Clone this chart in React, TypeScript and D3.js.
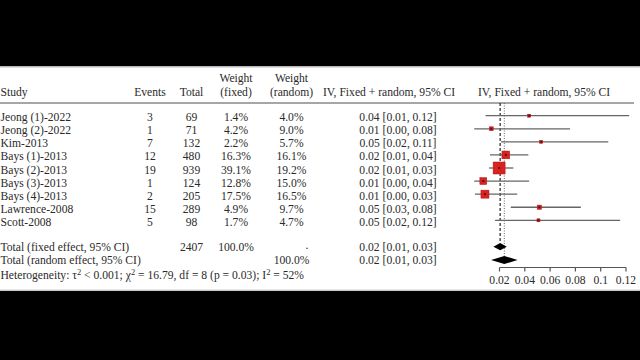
import React from "react";
import * as d3 from "d3";

const studies = [
  "Jeong (1)-2022",
  "Jeong (2)-2022",
  "Kim-2013",
  "Bays (1)-2013",
  "Bays (2)-2013",
  "Bays (3)-2013",
  "Bays (4)-2013",
  "Lawrence-2008",
  "Scott-2008",
];
const events = [3, 1, 7, 12, 19, 1, 2, 15, 5];
const totals = [69, 71, 132, 480, 939, 124, 205, 289, 98];
const weightFixed = [1.4, 4.2, 2.2, 16.3, 39.1, 12.8, 17.5, 4.9, 1.7];
const weightRandom = [4.0, 9.0, 5.7, 16.1, 19.2, 15.0, 16.5, 9.7, 4.7];
const ciLabels = [
  "0.04 [0.01, 0.12]",
  "0.01 [0.00, 0.08]",
  "0.05 [0.02, 0.11]",
  "0.02 [0.01, 0.04]",
  "0.02 [0.01, 0.03]",
  "0.01 [0.00, 0.04]",
  "0.01 [0.00, 0.03]",
  "0.05 [0.03, 0.08]",
  "0.05 [0.02, 0.12]",
];
const estimates = [0.0435, 0.0135, 0.053, 0.025, 0.0197, 0.0072, 0.0085, 0.0515, 0.0508];
const lowers = [0.009, 0.0, 0.0212, 0.0125, 0.0117, 0.0, 0.0006, 0.0289, 0.0165];
const uppers = [0.1225, 0.0758, 0.106, 0.0428, 0.031, 0.0434, 0.034, 0.0843, 0.1154];

const totalN = 2407;
const totalWeightLabel = "100.0%";
const fixedEst = 0.0205;
const fixedLow = 0.0152;
const fixedHigh = 0.0258;
const randomEst = 0.0238;
const randomLow = 0.0133;
const randomHigh = 0.0343;
const fixedLabel = "0.02 [0.01, 0.03]";
const randomLabel = "0.02 [0.01, 0.03]";
const axisTicks = [0.02, 0.04, 0.06, 0.08, 0.1, 0.12];
const axisTickLabels = ["0.02", "0.04", "0.06", "0.08", "0.1", "0.12"];

const FONT = "'Liberation Serif', 'DejaVu Serif', serif";
const TXT = "#2a2a2a";

export default function App() {
  const W = 640;
  const H = 360;
  const x = d3.scaleLinear().domain([0, 0.12]).range([474.2, 626]);
  const y = d3
    .scalePoint<number>()
    .domain(d3.range(studies.length))
    .range([115.7, 220.3]);
  const size = d3.scaleSqrt().domain([0, 39.1]).range([0, 12]);
  const pct = (v: number) => d3.format(".1f")(v) + "%";

  const colStudy = 0.5;
  const colEvents = 150;
  const colTotal = 191.5;
  const colWF = 236;
  const colWR = 291.5;
  const colCI = 398;
  const colHeadCI = 389;
  const colPlotHead = 544;

  const headerLineY = 103;
  const fixedY = 246.7;
  const randomY = 260;
  const axisY = 267.5;
  const dH = 3.6;

  const diamond = (lo: number, est: number, hi: number, cy: number, h: number) =>
    `M${x(lo)},${cy} L${x(est)},${cy - h} L${x(hi)},${cy} L${x(est)},${cy + h} Z`;

  const textProps = { fontFamily: FONT, fontSize: 11.6, fill: TXT } as const;

  return (
    <div style={{ position: "fixed", left: 0, top: 0, width: W, height: H }}>
      <svg width={W} height={H} style={{ display: "block" }}>
        <rect x={0} y={0} width={W} height={H} fill="#000" />
        <rect x={0} y={66} width={W} height={225} fill="#fff" />
        <rect x={0} y={66} width={W} height={1.5} fill="#bbb" />
        <rect x={0} y={289.5} width={W} height={1.5} fill="#ccc" />

        {/* headers */}
        <g {...textProps}>
          <text x={colStudy} y={95.5}>Study</text>
          <text x={colEvents} y={95.5} textAnchor="middle">Events</text>
          <text x={colTotal} y={95.5} textAnchor="middle">Total</text>
          <text x={colWF} y={81.5} textAnchor="middle">Weight</text>
          <text x={colWF} y={95.5} textAnchor="middle">(fixed)</text>
          <text x={colWR} y={81.5} textAnchor="middle">Weight</text>
          <text x={colWR} y={95.5} textAnchor="middle">(random)</text>
          <text x={colHeadCI} y={95.5} textAnchor="middle">IV, Fixed + random, 95% CI</text>
          <text x={colPlotHead} y={95.5} textAnchor="middle">IV, Fixed + random, 95% CI</text>
        </g>
        <line x1={0} x2={634} y1={headerLineY} y2={headerLineY} stroke="#888" strokeWidth={1.4} />

        {/* study rows */}
        <g {...textProps}>
          {studies.map((s, i) => {
            const by = (y(i) as number) + 5.5;
            return (
              <g key={s}>
                <text x={colStudy} y={by}>{s}</text>
                <text x={colEvents} y={by} textAnchor="middle">{events[i]}</text>
                <text x={colTotal} y={by} textAnchor="middle">{totals[i]}</text>
                <text x={colWF} y={by} textAnchor="middle">{pct(weightFixed[i])}</text>
                <text x={colWR} y={by} textAnchor="middle">{pct(weightRandom[i])}</text>
                <text x={colCI} y={by} textAnchor="middle">{ciLabels[i]}</text>
              </g>
            );
          })}
        </g>

        {/* totals */}
        <g {...textProps}>
          <text x={colStudy} y={fixedY + 4.5}>Total (fixed effect, 95% CI)</text>
          <text x={colTotal} y={fixedY + 4.5} textAnchor="middle">{totalN}</text>
          <text x={colWF} y={fixedY + 4.5} textAnchor="middle">{totalWeightLabel}</text>
          <text x={307} y={fixedY + 2.5} textAnchor="middle">.</text>
          <text x={colCI} y={fixedY + 4.5} textAnchor="middle">{fixedLabel}</text>
          <text x={colStudy} y={randomY + 3.5}>Total (random effect, 95% CI)</text>
          <text x={colWR} y={randomY + 3.5} textAnchor="middle">{totalWeightLabel}</text>
          <text x={colCI} y={randomY + 3.5} textAnchor="middle">{randomLabel}</text>
          <text x={colStudy} y={278.5}>
            {"Heterogeneity: \u03c4"}
            <tspan fontSize={8.5} dy={-4}>2</tspan>
            <tspan dy={4}>{" < 0.001; \u03c7"}</tspan>
            <tspan fontSize={8.5} dy={-4}>2</tspan>
            <tspan dy={4}>{" = 16.79, df = 8 (p = 0.03); I"}</tspan>
            <tspan fontSize={8.5} dy={-4}>2</tspan>
            <tspan dy={4}>{" = 52%"}</tspan>
          </text>
        </g>

        {/* reference lines */}
        <line
          x1={x(fixedEst)}
          x2={x(fixedEst)}
          y1={headerLineY}
          y2={fixedY - dH}
          stroke="#222"
          strokeWidth={1.2}
          strokeDasharray="3,2"
        />
        <line
          x1={x(randomEst)}
          x2={x(randomEst)}
          y1={headerLineY}
          y2={randomY - dH}
          stroke="#666"
          strokeWidth={1}
          strokeDasharray="1,1.5"
        />

        {/* CI lines & squares */}
        {studies.map((s, i) => {
          const cy = y(i) as number;
          const sz = Math.max(3, size(weightFixed[i]));
          return (
            <g key={"m" + s}>
              <line x1={x(lowers[i])} x2={x(uppers[i])} y1={cy} y2={cy} stroke="#666" strokeWidth={1.3} />
              <rect
                x={x(estimates[i]) - sz / 2}
                y={cy - sz / 2}
                width={sz}
                height={sz}
                fill="#d92222"
                stroke="#b01515"
                strokeWidth={0.5}
              />
              <rect x={x(estimates[i]) - 1} y={cy - 1} width={2} height={2} fill="#6a0a0a" />
            </g>
          );
        })}

        {/* diamonds */}
        <path d={diamond(fixedLow, fixedEst, fixedHigh, fixedY, dH)} fill="#000" />
        <path d={diamond(randomLow, randomEst, randomHigh, randomY, dH + 0.4)} fill="#000" />

        {/* axis */}
        <line x1={x(axisTicks[0])} x2={x(axisTicks[axisTicks.length - 1])} y1={axisY} y2={axisY} stroke="#555" strokeWidth={1.2} />
        {axisTicks.map((t, i) => (
          <g key={"t" + t}>
            <line x1={x(t)} x2={x(t)} y1={axisY} y2={axisY + 4} stroke="#555" strokeWidth={1.2} />
            <text x={x(t)} y={284} textAnchor="middle" {...textProps}>
              {axisTickLabels[i]}
            </text>
          </g>
        ))}
      </svg>
    </div>
  );
}
